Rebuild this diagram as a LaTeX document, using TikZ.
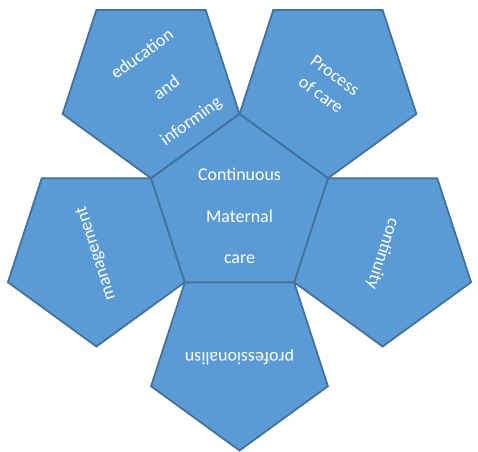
\documentclass[tikz,border=0pt]{standalone}
\usepackage{fontspec}
\setmainfont{Carlito}
\usetikzlibrary{shapes.geometric}
\definecolor{petalfill}{HTML}{5B9BD5}
\definecolor{petalline}{HTML}{41719C}

\begin{document}
\begin{tikzpicture}[
                    petal/.style={regular polygon, regular polygon sides=5,
                                  minimum size=3.72cm, inner sep=0pt,
                                  draw=petalline, fill=petalfill, line width=1pt},
                    txt/.style={text=white, align=center,
                                font=\fontsize{10.2}{13.6}\selectfont},
                    wide/.style={font=\fontsize{10.2}{23.6}\selectfont}
                ]
                \useasboundingbox (-4.79,-4.88) rectangle (4.77,4.14);

                \node[petal, rotate=36]   (EDU)  at (126:3.01) {};
                \node[petal, rotate=-36]  (PROC) at (54:3.01)  {};
                \node[petal, rotate=108]  (MAN)  at (198:3.01) {};
                \node[petal, rotate=-108] (CON)  at (342:3.01) {};
                \node[petal, rotate=180]  (PRO)  at (270:3.01) {};
                \node[petal]              (MID)  at (0,0)      {};

                \node[txt, wide]              (MIDt)  at ([yshift=-0.18cm]MID.center)          {Continuous\\Maternal\\care};
                \node[txt, wide, rotate=36]   (EDUt)  at ([shift={(0.32,-0.06)}]EDU.center)    {education\\and\\informing};
                \node[txt, rotate=-36]        (PROCt) at (PROC.center)                         {Process\\of care};
                \node[txt, rotate=108]        (MANt)  at (MAN.center)                          {management};
                \node[txt, rotate=-108]       (CONt)  at (CON.center)                          {continuity};
                \node[txt, rotate=180]        (PROt)  at (PRO.center)                          {professionalisn};
            \end{tikzpicture}
\end{document}
